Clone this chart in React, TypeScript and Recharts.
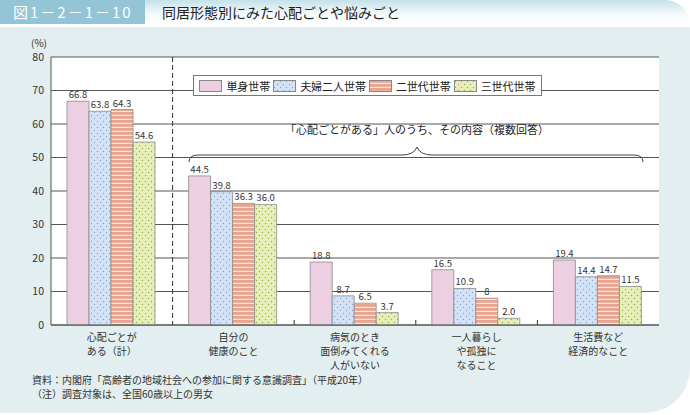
import React from "react";
import {
  BarChart,
  Bar,
  XAxis,
  YAxis,
  CartesianGrid,
  LabelList,
} from "recharts";

// categories (line breaks as printed under the axis)
const categories = [
  "心配ごとが\nある（計）",
  "自分の\n健康のこと",
  "病気のとき\n面倒みてくれる\n人がいない",
  "一人暮らし\nや孤独に\nなること",
  "生活費など\n経済的なこと",
];

// values as printed on top of the bars
const singleLabels = ["66.8", "44.5", "18.8", "16.5", "19.4"];
const coupleLabels = ["63.8", "39.8", "8.7", "10.9", "14.4"];
const twoGenLabels = ["64.3", "36.3", "6.5", "8", "14.7"];
const threeGenLabels = ["54.6", "36.0", "3.7", "2.0", "11.5"];

const yTicks = [0, 10, 20, 30, 40, 50, 60, 70, 80];

const SERIES = [
  { key: "single", label: "単身世帯", fill: "#eccfe0", labels: singleLabels },
  { key: "couple", label: "夫婦二人世帯", fill: "url(#pCouple)", labels: coupleLabels },
  { key: "twoGen", label: "二世代世帯", fill: "url(#pTwoGen)", labels: twoGenLabels },
  { key: "threeGen", label: "三世代世帯", fill: "url(#pThreeGen)", labels: threeGenLabels },
];

const data = categories.map((name, i) => {
  const row: any = { name };
  SERIES.forEach((s) => {
    row[s.key] = Number(s.labels[i]);
    row[s.key + "Label"] = s.labels[i];
  });
  return row;
});

const FONT = '"Noto Sans CJK JP", "Noto Sans", sans-serif';

// plot box (chart margins below)
const MARGIN = { top: 57, right: 31, bottom: 30, left: 21 };
const Y_AXIS_W = 30;
const PLOT_L = MARGIN.left + Y_AXIS_W;
const PLOT_R = 690 - MARGIN.right;
const PLOT_T = MARGIN.top;
const PLOT_B = 325;
const BAND = (PLOT_R - PLOT_L) / categories.length;

function Patterns({ suffix = "" }: { suffix?: string }) {
  return (
    <defs>
      <pattern id={"pCouple" + suffix} width="6" height="6" patternUnits="userSpaceOnUse">
        <rect width="6" height="6" fill="#d5e2f3" />
        <circle cx="1.5" cy="1.5" r="0.7" fill="#7fa5dc" />
        <circle cx="4.5" cy="4.5" r="0.7" fill="#7fa5dc" />
      </pattern>
      <pattern id={"pTwoGen" + suffix} width="4" height="4" patternUnits="userSpaceOnUse">
        <rect width="4" height="4" fill="#e8a48e" />
        <rect y="2.8" width="4" height="1.2" fill="#fbe6de" />
      </pattern>
      <pattern id={"pThreeGen" + suffix} width="6" height="6" patternUnits="userSpaceOnUse">
        <rect width="6" height="6" fill="#e7eebb" />
        <circle cx="1.5" cy="1.5" r="0.75" fill="#92bb3e" />
        <circle cx="4.5" cy="4.5" r="0.75" fill="#92bb3e" />
      </pattern>
    </defs>
  );
}

const CategoryTick = (props: any) => {
  const { x, y, payload } = props;
  const lines = String(payload.value).split("\n");
  return (
    <g>
      {lines.map((l, i) => (
        <text key={i} x={x} y={y + 8 + i * 14} textAnchor="middle" fontSize={10} fill="#333">
          {l}
        </text>
      ))}
    </g>
  );
};

function LegendBox() {
  return (
    <div
      style={{
        position: "absolute",
        left: 193,
        top: 75,
        width: 349,
        height: 21,
        boxSizing: "border-box",
        background: "#fff",
        border: "1px solid #777",
        display: "flex",
        alignItems: "center",
        justifyContent: "space-around",
        padding: "0 4px",
        fontFamily: FONT,
        fontSize: 11,
        color: "#222",
      }}
    >
      {SERIES.map((s) => (
        <div key={s.key} style={{ display: "flex", alignItems: "center" }}>
          <svg width={23} height={12} style={{ marginRight: 4 }}>
            <Patterns suffix="L" />
            <rect
              x={0.5}
              y={0.5}
              width={22}
              height={11}
              fill={s.fill.replace(")", "L)")}
              stroke="#888"
            />
          </svg>
          <span>{s.label}</span>
        </div>
      ))}
    </div>
  );
}

export default function App() {
  return (
    <div
      style={{
        position: "absolute",
        left: 0,
        top: 0,
        width: 690,
        height: 415,
        background: "#fff",
        overflow: "hidden",
        fontFamily: FONT,
      }}
    >
      {/* header */}
      <div
        style={{
          position: "absolute",
          left: 0,
          top: 0,
          width: 690,
          height: 25,
          background: "linear-gradient(to bottom, #c4e1ea 0%, #f4fafc 55%, #ffffff 100%)",
          borderTopRightRadius: 40,
        }}
      />
      <div
        style={{
          position: "absolute",
          left: 0,
          top: 0,
          width: 145,
          height: 24,
          background: "#93c5d6",
          color: "#fff",
          fontSize: 15,
          lineHeight: "24px",
          paddingLeft: 13,
          boxSizing: "border-box",
          letterSpacing: 2,
        }}
      >
        図1－2－1－10
      </div>
      <div
        style={{
          position: "absolute",
          left: 162,
          top: 0,
          height: 24,
          lineHeight: "24px",
          fontSize: 14,
          color: "#222",
        }}
      >
        同居形態別にみた心配ごとや悩みごと
      </div>
      {/* panel background */}
      <div
        style={{
          position: "absolute",
          left: 0,
          top: 27,
          width: 690,
          height: 386,
          background: "#e2eef0",
          borderBottomRightRadius: 45,
        }}
      />
      <div
        style={{
          position: "absolute",
          left: 31,
          top: 37,
          fontSize: 10,
          lineHeight: "11px",
          color: "#333",
        }}
      >
        (%)
      </div>

      <div style={{ position: "absolute", left: 0, top: 0 }}>
        <BarChart
          width={690}
          height={415}
          data={data}
          margin={MARGIN}
          barCategoryGap={16}
          barGap={0}
          style={{ fontFamily: FONT }}
        >
          <Patterns />
          <CartesianGrid vertical={false} stroke="#555" fill="#fff" fillOpacity={1} />
          <XAxis
            dataKey="name"
            interval={0}
            tick={<CategoryTick />}
            tickLine={false}
            axisLine={{ stroke: "#555" }}
            height={60}
          />
          <YAxis
            domain={[0, 80]}
            ticks={yTicks}
            width={Y_AXIS_W}
            tickLine={false}
            tickSize={5}
            axisLine={{ stroke: "#555" }}
            tick={{ fill: "#333", fontSize: 10.5 }}
          />
          <YAxis
            yAxisId="r"
            orientation="right"
            domain={[0, 80]}
            width={0}
            tick={false}
            tickLine={false}
            axisLine={{ stroke: "#555" }}
          />
          {SERIES.map((s) => (
            <Bar
              key={s.key}
              dataKey={s.key}
              name={s.label}
              fill={s.fill}
              stroke="#8a8a8a"
              strokeWidth={0.8}
              isAnimationActive={false}
            >
              <LabelList
                dataKey={s.key + "Label"}
                position="top"
                offset={3}
                fontSize={9.5}
                fill="#333"
              />
            </Bar>
          ))}
        </BarChart>
      </div>

      {/* separators, small boundary ticks and brace annotation */}
      <svg
        width={690}
        height={415}
        style={{ position: "absolute", left: 0, top: 0, pointerEvents: "none" }}
      >
        <line
          x1={PLOT_L + BAND}
          x2={PLOT_L + BAND}
          y1={PLOT_T}
          y2={PLOT_B}
          stroke="#333"
          strokeDasharray="5 3"
        />
        {[2, 3, 4].map((k) => (
          <line
            key={k}
            x1={PLOT_L + BAND * k}
            x2={PLOT_L + BAND * k}
            y1={PLOT_B}
            y2={PLOT_B - 5}
            stroke="#333"
          />
        ))}
        <text x={417} y={134} textAnchor="middle" fontSize={11} fill="#222" fontFamily={FONT}>
          「心配ごとがある」人のうち、その内容（複数回答）
        </text>
        <path
          d="M189,162 Q189,155 198,155 L402,155 Q414,155 417,147 Q420,155 432,155 L634,155 Q643,155 643,162"
          fill="none"
          stroke="#444"
          strokeWidth={1}
        />
      </svg>

      <LegendBox />

      <div
        style={{
          position: "absolute",
          left: 32,
          top: 373,
          fontSize: 10,
          lineHeight: "14px",
          color: "#333",
        }}
      >
        <div>資料：内閣府「高齢者の地域社会への参加に関する意識調査」（平成20年）</div>
        <div>（注）調査対象は、全国60歳以上の男女</div>
      </div>
    </div>
  );
}
